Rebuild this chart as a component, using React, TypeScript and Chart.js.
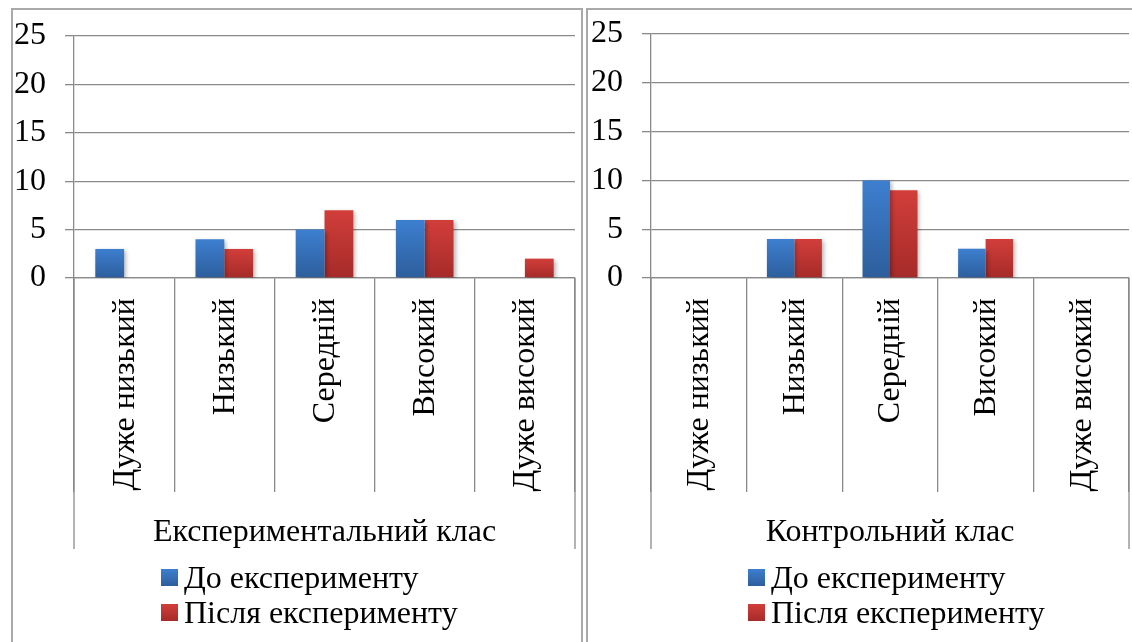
import React, { useEffect, useRef } from "react";
import { Chart, registerables } from "chart.js";

Chart.register(...registerables);

// ---- data ----
const categories = ["Дуже низький", "Низький", "Середній", "Високий", "Дуже високий"];
const seriesNames = ["До експерименту", "Після експерименту"];
const expBefore = [3, 4, 5, 6, 0];
const expAfter = [0, 3, 7, 6, 2];
const ctrlBefore = [0, 4, 10, 3, 0];
const ctrlAfter = [0, 4, 9, 4, 0];
const groupNames = ["Експериментальний клас", "Контрольний клас"];
const yMin = 0;
const yMax = 25;
const yStep = 5;

// ---- style ----
const FONT = '"Liberation Serif", "Times New Roman", serif';
const FS = 32;
const GRAY = "#8a8a8a";
const BLUE_TOP = "#3d7fd0";
const BLUE_BOT = "#2d5e9c";
const RED_TOP = "#d23e3a";
const RED_BOT = "#a52b29";

type PanelCfg = {
  left: number;
  top: number;
  width: number;
  height: number;
  areaLeft: number;
  areaTop: number;
  areaRight: number;
  areaBottom: number;
  legendX: number;
  legendY: number;
  group: string;
  before: number[];
  after: number[];
};

function gradientFor(chart: any, value: number, top: string, bot: string) {
  const ys = chart.scales && chart.scales.y;
  if (!ys || !chart.chartArea) return top;
  const y0 = ys.getPixelForValue(0);
  const y1 = ys.getPixelForValue(value);
  if (!isFinite(y0) || !isFinite(y1) || Math.abs(y0 - y1) < 1) return top;
  const g = chart.ctx.createLinearGradient(0, y1, 0, y0);
  g.addColorStop(0, top);
  g.addColorStop(1, bot);
  return g;
}

function Panel({ cfg }: { cfg: PanelCfg }) {
  const ref = useRef<HTMLCanvasElement>(null);
  useEffect(() => {
    if (!ref.current) return;
    const extras = {
      id: "extras",
      beforeDatasetsDraw(chart: any) {
        const ctx = chart.ctx;
        ctx.save();
        ctx.shadowColor = "rgba(0,0,0,0.28)";
        ctx.shadowBlur = 4;
        ctx.shadowOffsetX = 2;
        ctx.shadowOffsetY = 2;
      },
      afterDatasetsDraw(chart: any) {
        chart.ctx.restore();
      },
      afterDraw(chart: any) {
        const ctx = chart.ctx;
        const area = chart.chartArea;
        const xs = chart.scales.x;
        ctx.save();
        ctx.strokeStyle = GRAY;
        ctx.lineWidth = 1.3;
        [area.left, area.right].forEach((x: number) => {
          ctx.beginPath();
          ctx.moveTo(x, area.bottom);
          ctx.lineTo(x, 541);
          ctx.stroke();
        });
        ctx.fillStyle = "#000";
        ctx.font = `${FS}px ${FONT}`;
        categories.forEach((c, i) => {
          const px = xs.getPixelForValue(i);
          ctx.save();
          ctx.translate(px + 1, area.bottom + 20);
          ctx.rotate(-Math.PI / 2);
          ctx.textAlign = "right";
          ctx.textBaseline = "middle";
          ctx.fillText(c, 0, 0);
          ctx.restore();
        });
        ctx.textAlign = "center";
        ctx.textBaseline = "alphabetic";
        ctx.fillText(cfg.group, (area.left + area.right) / 2, 533);
        const tops = [BLUE_TOP, RED_TOP];
        const bots = [BLUE_BOT, RED_BOT];
        seriesNames.forEach((n, i) => {
          const y = cfg.legendY + i * 35;
          const g = ctx.createLinearGradient(0, y, 0, y + 17);
          g.addColorStop(0, tops[i]);
          g.addColorStop(1, bots[i]);
          ctx.fillStyle = g;
          ctx.fillRect(cfg.legendX, y, 17, 17);
          ctx.fillStyle = "#000";
          ctx.textAlign = "left";
          ctx.fillText(n, cfg.legendX + 23, y + 19);
        });
        ctx.restore();
      },
    };

    const chart = new Chart(ref.current, {
      type: "bar",
      data: {
        labels: categories,
        datasets: [
          {
            label: seriesNames[0],
            data: cfg.before,
            backgroundColor: (c: any) => gradientFor(c.chart, c.raw ?? 0, BLUE_TOP, BLUE_BOT),
            borderWidth: 0,
            categoryPercentage: 0.575,
            barPercentage: 1,
          },
          {
            label: seriesNames[1],
            data: cfg.after,
            backgroundColor: (c: any) => gradientFor(c.chart, c.raw ?? 0, RED_TOP, RED_BOT),
            borderWidth: 0,
            categoryPercentage: 0.575,
            barPercentage: 1,
          },
        ],
      },
      options: {
        animation: false,
        responsive: false,
        maintainAspectRatio: false,
        devicePixelRatio: 1,
        layout: {
          padding: {
            left: 0,
            top: cfg.areaTop,
            right: cfg.width - cfg.areaRight,
            bottom: 0,
          },
        },
        plugins: {
          legend: { display: false },
          tooltip: { enabled: false },
          title: { display: false },
        },
        scales: {
          x: {
            type: "category",
            offset: true,
            grid: {
              display: true,
              offset: true,
              drawOnChartArea: false,
              drawTicks: true,
              tickLength: 214,
              color: GRAY,
              lineWidth: 1.3,
            },
            border: { display: true, color: GRAY, width: 1.3 },
            ticks: { display: false },
            afterFit: (s: any) => {
              s.height = cfg.height - cfg.areaBottom;
              s.paddingLeft = 0;
              s.paddingRight = 0;
            },
          },
          y: {
            min: yMin,
            max: yMax,
            ticks: {
              stepSize: yStep,
              padding: 19,
              color: "#000",
              font: { family: FONT, size: FS },
            },
            grid: {
              color: GRAY,
              lineWidth: 1.3,
              drawTicks: true,
              tickLength: 9,
            },
            border: { display: true, color: GRAY, width: 1.3 },
            afterFit: (s: any) => {
              s.width = cfg.areaLeft;
              s.paddingTop = 0;
              s.paddingBottom = 0;
            },
          },
        },
      },
      plugins: [extras],
    } as any);
    return () => chart.destroy();
  }, [cfg]);

  return (
    <canvas
      ref={ref}
      width={cfg.width}
      height={cfg.height}
      style={{
        position: "absolute",
        left: cfg.left,
        top: cfg.top,
        width: cfg.width,
        height: cfg.height,
      }}
    />
  );
}

const panels: PanelCfg[] = [
  {
    left: 11,
    top: 8,
    width: 572,
    height: 634,
    areaLeft: 63,
    areaTop: 28,
    areaRight: 564,
    areaBottom: 270,
    legendX: 150,
    legendY: 561,
    group: groupNames[0],
    before: expBefore,
    after: expAfter,
  },
  {
    left: 586,
    top: 8,
    width: 546,
    height: 634,
    areaLeft: 65,
    areaTop: 26,
    areaRight: 543,
    areaBottom: 270,
    legendX: 162,
    legendY: 561,
    group: groupNames[1],
    before: ctrlBefore,
    after: ctrlAfter,
  },
];

export default function App() {
  return (
    <div
      style={{
        position: "absolute",
        left: 0,
        top: 0,
        width: 1132,
        height: 642,
        overflow: "hidden",
        background: "#fff",
      }}
    >
      <div
        style={{
          position: "absolute",
          left: 11,
          top: 8,
          width: 572,
          height: 700,
          boxSizing: "border-box",
          border: "2px solid #a9a9a9",
        }}
      />
      <div
        style={{
          position: "absolute",
          left: 586,
          top: 8,
          width: 560,
          height: 700,
          boxSizing: "border-box",
          border: "2px solid #a9a9a9",
        }}
      />
      {panels.map((p, i) => (
        <Panel key={i} cfg={p} />
      ))}
    </div>
  );
}
